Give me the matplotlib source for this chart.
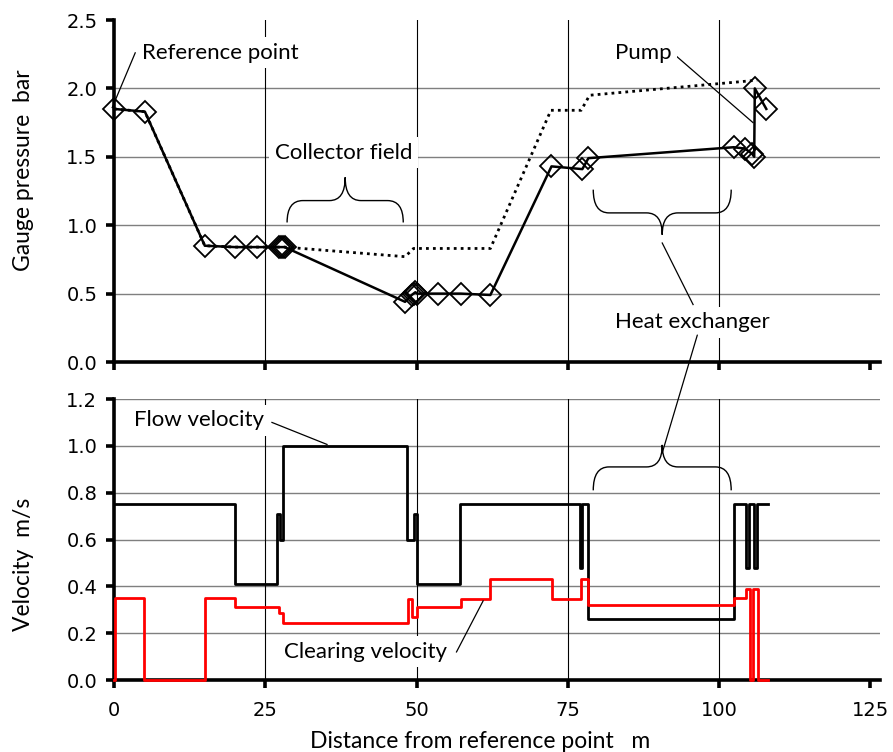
# -*- coding: utf-8 -*-

# import modules
import numpy as np
import matplotlib.pyplot as plt
from matplotlib.path import Path
from matplotlib.patches import PathPatch, ConnectionPatch

# pressure along the loop (solid line with markers)
press_x = [0, 5.1, 15, 20, 23.7, 27.3, 27.6, 27.9, 28.2, 48.1, 49.2, 49.5, 49.8, 50.1,
           53.6, 57.3, 62.2, 72.3, 77.4, 78.4, 102.4, 104.3, 105.5, 105.8, 105.9, 107.8]
press_y = [1.85, 1.83, 0.85, 0.84, 0.84, 0.84, 0.84, 0.84, 0.84, 0.44, 0.49, 0.50, 0.51, 0.50,
           0.50, 0.50, 0.49, 1.43, 1.41, 1.49, 1.57, 1.56, 1.52, 1.50, 2.00, 1.85]

# second pressure curve (dotted)
dot_x = [0, 5.1, 15, 20, 23.7, 28.2, 48.1, 49.5, 62.2, 72.2, 77.2, 78.6, 106.3]
dot_y = [1.85, 1.83, 0.85, 0.84, 0.84, 0.84, 0.77, 0.83, 0.83, 1.84, 1.84, 1.95, 2.06]

# flow velocity (black steps)
flow_x = [0, 20, 26.9, 27.4, 27.9, 48.4, 49.5, 50.0, 57.2, 77.0, 77.3, 78.4, 102.4,
          104.4, 104.9, 105.7, 106.2, 108]
flow_v = [0.75, 0.41, 0.71, 0.60, 1.0, 0.60, 0.71, 0.41, 0.75, 0.48, 0.75, 0.26, 0.75,
          0.48, 0.75, 0.48, 0.75, 0.75]

# clearing velocity (red steps)
clear_x = [0, 0.2, 4.9, 15.1, 20, 27.2, 27.9, 48.6, 49.3, 50.1, 57.3, 62.2, 72.4, 77.2,
           78.4, 102.4, 104.5, 105.1, 105.6, 106.4, 108]
clear_v = [0, 0.35, 0, 0.35, 0.31, 0.285, 0.245, 0.345, 0.27, 0.31, 0.345, 0.43, 0.345, 0.43,
           0.32, 0.35, 0.39, 0, 0.39, 0, 0]

txt_font = ['Lato', 'DejaVu Sans']
tick_font = 'DejaVu Sans'
note_size = 16

fig = plt.figure(figsize=(8.93, 7.52), dpi=100)
ax1 = fig.add_axes([0.1277, 0.5186, 0.8578, 0.4548])
ax2 = fig.add_axes([0.1277, 0.0957, 0.8578, 0.3737])

"""Common axis styling"""
for ax, yt in [(ax1, np.arange(0, 2.51, 0.5)), (ax2, np.arange(0, 1.21, 0.2))]:
    ax.set_xlim(0, 126.6)
    ax.set_ylim(yt[0], yt[-1])
    ax.set_xticks([0, 25, 50, 75, 100, 125])
    ax.set_yticks(yt)
    for s in ['top', 'right']:
        ax.spines[s].set_visible(False)
    ax.spines['left'].set_linewidth(2.6)
    ax.spines['bottom'].set_linewidth(2.6)
    ax.tick_params(direction='out', length=6, width=2.6, labelsize=14, pad=6)
    ax.tick_params(axis='x', pad=9)
    for lab in ax.get_yticklabels() + ax.get_xticklabels():
        lab.set_fontfamily(tick_font)
    for v in yt[1:]:
        if ax is ax1 and v == yt[-1]:
            continue
        ax.axhline(v, color='#7f7f7f', lw=1.0, zorder=0)
    for v in [25, 50, 75, 100]:
        ax.axvline(v, color='black', lw=0.8, zorder=0)

ax1.set_yticklabels(['%.1f' % v for v in np.arange(0, 2.51, 0.5)])
ax2.set_yticklabels(['%.1f' % v for v in np.arange(0, 1.21, 0.2)])
ax1.tick_params(labelbottom=False)

"""Top panel: pressure"""
ax1.plot(dot_x, dot_y, color='black', lw=2, linestyle=(0, (1, 1.5)), zorder=3)
ax1.plot(press_x, press_y, color='black', lw=1.8, marker='D', markersize=11.5,
         markerfacecolor='none', markeredgecolor='black', markeredgewidth=1.3,
         zorder=4, clip_on=False)
ax1.set_ylabel('Gauge pressure  bar', fontsize=16.5, family=txt_font)
ax1.yaxis.set_label_coords(-0.105, 0.56)

"""Bottom panel: velocities"""
ax2.plot(flow_x, flow_v, drawstyle='steps-post', color='black', lw=2, zorder=3)
ax2.plot(clear_x, clear_v, drawstyle='steps-post', color='red', lw=2, zorder=4,
         clip_on=False)
ax2.set_ylabel('Velocity  m/s', fontsize=16.5, family=txt_font)
ax2.yaxis.set_label_coords(-0.105, 0.41)
ax2.set_xlabel('Distance from reference point   m', fontsize=16.5, family=txt_font,
               va='center')
ax2.xaxis.set_label_coords(0.478, -0.22)


def brace(ax, x0, x1, y_end, y_mid, y_tip, w=2.6):
    # curly brace drawn with quadratic curves
    xm = (x0 + x1) / 2.0
    verts = [(x0, y_end), (x0, y_mid), (x0 + w, y_mid),
             (xm - w, y_mid), (xm, y_mid), (xm, y_tip),
             (xm, y_mid), (xm + w, y_mid),
             (x1 - w, y_mid), (x1, y_mid), (x1, y_end)]
    codes = [Path.MOVETO, Path.CURVE3, Path.CURVE3,
             Path.LINETO, Path.CURVE3, Path.CURVE3,
             Path.CURVE3, Path.CURVE3,
             Path.LINETO, Path.CURVE3, Path.CURVE3]
    ax.add_patch(PathPatch(Path(verts, codes), facecolor='none', edgecolor='black',
                           lw=1.0, zorder=5))


box = dict(facecolor='white', edgecolor='none', pad=4)

"""Annotations"""
ax1.text(4.6, 2.26, 'Reference point', fontsize=note_size, family=txt_font, ha='left',
         va='center', bbox=box, zorder=6)
ax1.plot([3.5, -0.3], [2.26, 1.86], color='black', lw=0.9, zorder=5, clip_on=False)

ax1.text(37.9, 1.53, 'Collector field', fontsize=note_size, family=txt_font, ha='center',
         va='center', bbox=box, zorder=6)
brace(ax1, 28.6, 47.8, 1.02, 1.18, 1.35)

ax1.text(87.5, 2.26, 'Pump', fontsize=note_size, family=txt_font, ha='center', va='center',
         bbox=box, zorder=6)
ax1.plot([92.3, 105.6], [2.26, 1.75], color='black', lw=0.9, zorder=5)

ax1.text(95.6, 0.29, 'Heat exchanger', fontsize=note_size, family=txt_font, ha='center',
         va='center', bbox=box, zorder=6)
brace(ax1, 79.2, 102.0, 1.26, 1.09, 0.93)
ax1.plot([90.6, 95.7], [0.87, 0.42], color='black', lw=0.9, zorder=5)
brace(ax2, 79.2, 102.0, 0.81, 0.91, 1.004)
con = ConnectionPatch(xyA=(96.4, 0.197), coordsA=ax1.transData,
                      xyB=(90.6, 0.97), coordsB=ax2.transData, color='black', lw=0.9)
fig.add_artist(con)

ax2.text(3.3, 1.11, 'Flow velocity', fontsize=note_size, family=txt_font, ha='left',
         va='center', bbox=box, zorder=6)
ax2.plot([26.1, 35.2], [1.10, 1.006], color='black', lw=0.9, zorder=5)

ax2.text(41.6, 0.12, 'Clearing velocity', fontsize=note_size, family=txt_font, ha='center',
         va='center', bbox=box, zorder=6)
ax2.plot([56.6, 61.0], [0.12, 0.338], color='black', lw=0.9, zorder=5)

fig.savefig('out.png', dpi=100)
